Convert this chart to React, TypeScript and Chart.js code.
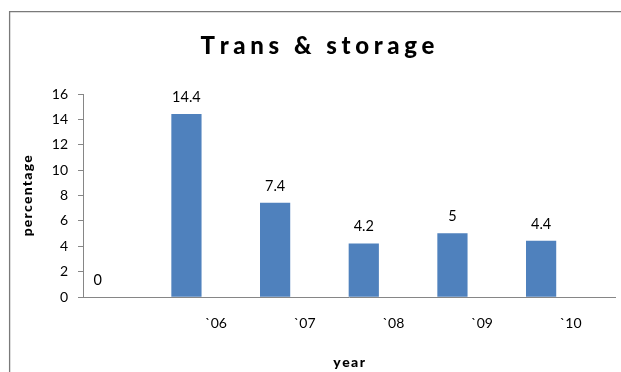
import React, { useEffect, useRef } from "react";
import { Chart, registerables } from "chart.js";

Chart.register(...registerables);

// Transport & storage growth, percent by year
const categories: string[] = ["", "`06", "`07", "`08", "`09", "`10"];
const percentValues: number[] = [0, 14.4, 7.4, 4.2, 5, 4.4];
const yTicks: number[] = [0, 2, 4, 6, 8, 10, 12, 14, 16];

const chartTitle = "Trans & storage";
const xTitle = "year";
const yTitle = "percentage";

const BAR_BLUE = "#4F81BD";
const AXIS_GREY = "#868686";
const FONT = "Lato, 'Open Sans', sans-serif";

// draws text with extra letter spacing, centred on (cx, y)
function spacedText(
  ctx: CanvasRenderingContext2D,
  text: string,
  cx: number,
  y: number,
  spacing: number
) {
  const w = ctx.measureText(text).width + spacing * (text.length - 1);
  let x = cx - w / 2;
  ctx.textAlign = "left";
  for (const ch of text) {
    ctx.fillText(ch, x, y);
    x += ctx.measureText(ch).width + spacing;
  }
}

const decorPlugin = {
  id: "decor",
  beforeDraw(chart: any) {
    const { ctx, width, height } = chart;
    ctx.save();
    ctx.fillStyle = "#ffffff";
    ctx.fillRect(0, 0, width, height);
    // outer frame (top and left edges visible)
    ctx.strokeStyle = "#7a7a7a";
    ctx.lineWidth = 1.3;
    ctx.beginPath();
    ctx.moveTo(9.6, height);
    ctx.lineTo(9.6, 11.6);
    ctx.lineTo(width, 11.6);
    ctx.stroke();
    ctx.restore();
  },
  afterDraw(chart: any) {
    const { ctx } = chart;
    ctx.save();
    ctx.fillStyle = "#000000";
    ctx.textBaseline = "alphabetic";

    // chart title
    ctx.font = `900 24px ${FONT}`;
    spacedText(ctx, chartTitle, 316, 54, 4.6);

    // x axis title
    ctx.font = `900 14px ${FONT}`;
    spacedText(ctx, xTitle, 349, 367, 1.4);

    // y axis title, rotated
    ctx.translate(27, 196);
    ctx.rotate(-Math.PI / 2);
    ctx.textBaseline = "middle";
    spacedText(ctx, yTitle, 0, 0, 1.2);
    ctx.restore();
  },
  afterDatasetsDraw(chart: any) {
    const { ctx } = chart;
    const meta = chart.getDatasetMeta(0);
    ctx.save();
    ctx.font = `14.5px ${FONT}`;
    ctx.fillStyle = "#000000";
    ctx.textAlign = "center";
    ctx.textBaseline = "middle";
    meta.data.forEach((bar: any, i: number) => {
      const v = percentValues[i];
      ctx.fillText(String(v), bar.x, bar.y - 17);
    });
    ctx.restore();
  },
};

export default function App() {
  const canvasRef = useRef<HTMLCanvasElement | null>(null);

  useEffect(() => {
    const canvas = canvasRef.current;
    if (!canvas) return;
    const chart = new Chart(canvas, {
      type: "bar",
      data: {
        labels: categories,
        datasets: [
          {
            label: "Trans & storage",
            data: percentValues,
            // a zero value leaves no visible bar
            backgroundColor: (c: any) =>
              c.raw === 0 ? "rgba(0,0,0,0)" : BAR_BLUE,
            borderWidth: 0,
          },
          // empty series that share each category cluster
          { label: "", data: categories.map(() => null), backgroundColor: BAR_BLUE },
          { label: "", data: categories.map(() => null), backgroundColor: BAR_BLUE },
        ],
      },
      options: {
        responsive: false,
        animation: false,
        devicePixelRatio: 1,
        layout: { padding: { top: 94, right: 6, bottom: 0, left: 0 } },
        plugins: {
          legend: { display: false },
          title: { display: false },
          tooltip: { enabled: false },
        },
        datasets: {
          bar: { barPercentage: 1, categoryPercentage: 1 },
        },
        scales: {
          x: {
            grid: { display: true, drawOnChartArea: false, drawTicks: false },
            border: { color: AXIS_GREY, width: 1, z: 1 },
            ticks: {
              padding: 18,
              maxRotation: 0,
              color: "#000000",
              font: { family: FONT, size: 14 },
            },
            afterFit: (s: any) => {
              s.height = 75;
            },
          },
          y: {
            min: 0,
            max: 16,
            afterBuildTicks: (s: any) => {
              s.ticks = yTicks.map((v) => ({ value: v }));
            },
            grid: {
              drawOnChartArea: false,
              drawTicks: true,
              tickLength: 5,
              color: AXIS_GREY,
            },
            border: { color: AXIS_GREY, width: 1 },
            ticks: {
              padding: 10,
              color: "#000000",
              font: { family: FONT, size: 14 },
            },
            afterFit: (s: any) => {
              s.width = 83;
            },
          },
        },
      },
      plugins: [decorPlugin],
    });
    return () => chart.destroy();
  }, []);

  return (
    <canvas
      ref={canvasRef}
      width={621}
      height={372}
      style={{ position: "fixed", left: 0, top: 0, width: 621, height: 372 }}
    />
  );
}
